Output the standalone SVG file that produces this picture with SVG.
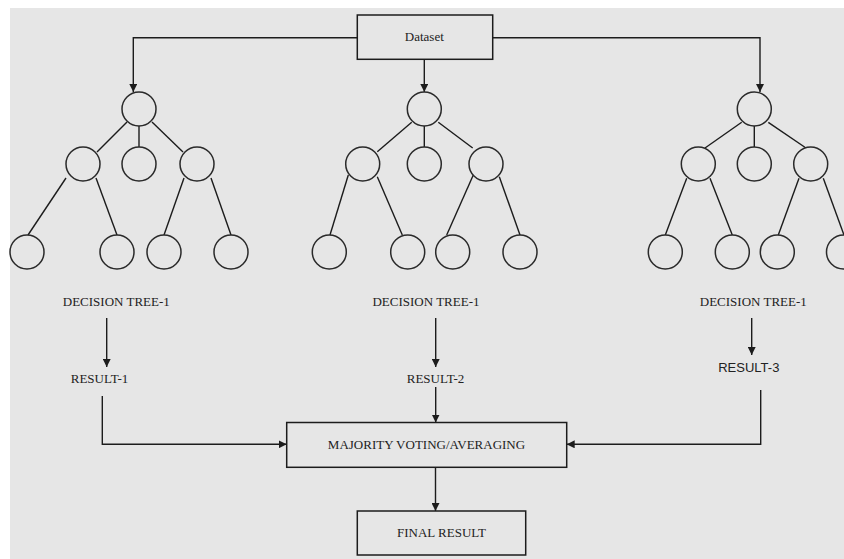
<svg xmlns="http://www.w3.org/2000/svg" width="844" height="559" viewBox="0 0 844 559">
<defs>
<style>
.ln{stroke:#1c1c1c;stroke-width:1.4;fill:none}
.cn{stroke:#1c1c1c;stroke-width:1.4;fill:none}
.nd{stroke:#2a2a2a;stroke-width:1.5;fill:#e6e6e6}
.bx{stroke:#1c1c1c;stroke-width:1.5;fill:#e6e6e6}
.t{font-family:"Liberation Serif","Times New Roman",serif;font-size:13px;fill:#222;text-anchor:middle}
.ts{font-family:"Liberation Sans",Arial,sans-serif;font-size:13px;fill:#222;text-anchor:middle}
</style>
<marker id="ah" viewBox="0 0 8 8" markerWidth="8" markerHeight="8" refX="8" refY="4" orient="auto" markerUnits="userSpaceOnUse">
<path d="M0,0 L8,4 L0,8 z" fill="#1c1c1c"/>
</marker>
</defs>
<rect x="0" y="0" width="844" height="559" fill="#ffffff"/>
<rect x="10" y="8" width="834" height="551" fill="#e6e6e6"/>

<g id="connectors">
<path class="cn" d="M357.3,37.7 H133.3 V92" marker-end="url(#ah)"/>
<path class="cn" d="M424.3,59.3 V92" marker-end="url(#ah)"/>
<path class="cn" d="M492.7,37.7 H760 V92" marker-end="url(#ah)"/>
<path class="cn" d="M106.7,318 V367" marker-end="url(#ah)"/>
<path class="cn" d="M435.7,318 V367" marker-end="url(#ah)"/>
<path class="cn" d="M751.7,318 V355" marker-end="url(#ah)"/>
<path class="cn" d="M102.3,396 V444.3 H286.7" marker-end="url(#ah)"/>
<path class="cn" d="M435.7,387 V422.5" marker-end="url(#ah)"/>
<path class="cn" d="M760.7,390 V444.3 H566.7" marker-end="url(#ah)"/>
<path class="cn" d="M435.5,467.3 V511" marker-end="url(#ah)"/>
</g>

<g id="dataset">
<rect class="bx" x="357.3" y="15" width="135.4" height="44.3"/>
<text class="t" x="424.3" y="41">Dataset</text>
</g>

<g id="tree1">
<g class="ln">
<line x1="127" y1="122" x2="97" y2="152"/>
<line x1="139" y1="126" x2="139" y2="147"/>
<line x1="152" y1="122" x2="183" y2="152"/>
<line x1="66" y1="178" x2="28" y2="235"/>
<line x1="96" y1="178" x2="117" y2="235"/>
<line x1="184" y1="178" x2="164" y2="235"/>
<line x1="211" y1="178" x2="231" y2="235"/>
</g>
<circle class="nd" cx="139" cy="109" r="17"/>
<circle class="nd" cx="83" cy="164" r="17"/>
<circle class="nd" cx="139" cy="164" r="17"/>
<circle class="nd" cx="197" cy="164" r="17"/>
<circle class="nd" cx="27" cy="252" r="17"/>
<circle class="nd" cx="117" cy="252" r="17"/>
<circle class="nd" cx="164" cy="252" r="17"/>
<circle class="nd" cx="231" cy="252" r="17"/>
<text class="t" x="116.3" y="306">DECISION TREE-1</text>
</g>

<g id="tree2">
<g class="ln">
<line x1="411.7" y1="122.3" x2="377.3" y2="151.7"/>
<line x1="424.3" y1="126" x2="424.3" y2="147"/>
<line x1="438.3" y1="122.3" x2="472.7" y2="148"/>
<line x1="348.3" y1="175" x2="330" y2="235"/>
<line x1="377.3" y1="176.7" x2="402.3" y2="235"/>
<line x1="473.3" y1="175" x2="446.7" y2="235"/>
<line x1="499.3" y1="176.7" x2="520" y2="235"/>
</g>
<circle class="nd" cx="424.3" cy="109" r="17"/>
<circle class="nd" cx="362.7" cy="164" r="17"/>
<circle class="nd" cx="424.3" cy="164" r="17"/>
<circle class="nd" cx="486" cy="164" r="17"/>
<circle class="nd" cx="329.3" cy="252" r="17"/>
<circle class="nd" cx="407.7" cy="252" r="17"/>
<circle class="nd" cx="452.7" cy="252" r="17"/>
<circle class="nd" cx="520" cy="252" r="17"/>
<text class="t" x="426" y="306">DECISION TREE-1</text>
</g>

<g id="tree3">
<g class="ln">
<line x1="741.7" y1="122.3" x2="705" y2="148"/>
<line x1="754.3" y1="126" x2="754.3" y2="147"/>
<line x1="768.3" y1="122.3" x2="806" y2="148"/>
<line x1="686.7" y1="178.3" x2="665.3" y2="235"/>
<line x1="710" y1="178.3" x2="732.3" y2="235"/>
<line x1="799" y1="178.3" x2="778.3" y2="235"/>
<line x1="823.3" y1="178.3" x2="844" y2="235"/>
</g>
<circle class="nd" cx="754.3" cy="109" r="17"/>
<circle class="nd" cx="698.3" cy="164" r="17"/>
<circle class="nd" cx="754.3" cy="164" r="17"/>
<circle class="nd" cx="810.7" cy="164" r="17"/>
<circle class="nd" cx="665.3" cy="252" r="17"/>
<circle class="nd" cx="732.3" cy="252" r="17"/>
<circle class="nd" cx="777.3" cy="252" r="17"/>
<circle class="nd" cx="843.5" cy="252" r="17"/>
<text class="t" x="753.3" y="306">DECISION TREE-1</text>
</g>

<g id="result1"><text class="t" x="99.5" y="382.5">RESULT-1</text></g>
<g id="result2"><text class="t" x="435.5" y="382.5">RESULT-2</text></g>
<g id="result3"><text class="ts" x="748.8" y="372">RESULT-3</text></g>

<g id="majority">
<rect class="bx" x="286.7" y="422.5" width="280" height="44.8"/>
<text class="t" x="426.5" y="449">MAJORITY VOTING/AVERAGING</text>
</g>

<g id="final">
<rect class="bx" x="357.3" y="511" width="168.4" height="44"/>
<text class="t" x="441.5" y="537">FINAL RESULT</text>
</g>
</svg>
